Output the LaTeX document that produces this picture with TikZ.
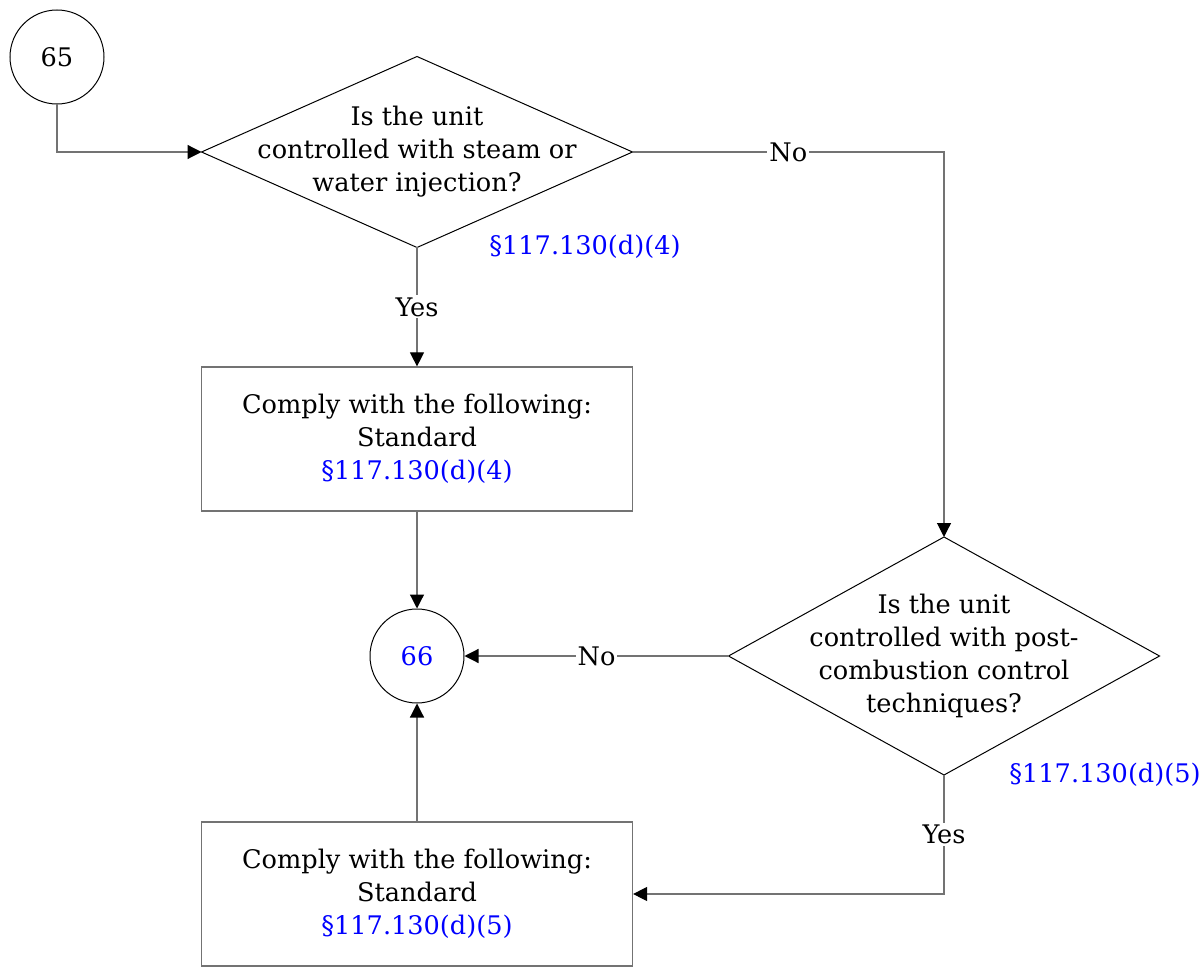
\documentclass[tikz,border=0pt]{standalone}
\usepackage{fontspec}
\setmainfont{DejaVu Serif}
\usetikzlibrary{shapes.geometric,arrows.meta}
\begin{document}
\begin{tikzpicture}[x=0.5pt, y=-0.5pt, >={Triangle[length=7pt,width=7pt,color=black]},
  every node/.style={font=\fontsize{12.8}{16.5}\selectfont},
  conn/.style={draw=black!55, line width=0.6pt},
  lbl/.style={fill=white, inner sep=1pt},
  term/.style={circle, draw, line width=0.5pt, minimum size=47pt, inner sep=0pt},
  decision/.style={diamond, draw, line width=0.5pt, inner sep=0pt, outer sep=0pt},
  stdbox/.style={rectangle, draw=black!55, line width=0.6pt, minimum width=215.5pt, minimum height=72pt, align=center},
  ref/.style={text=blue}]
  \useasboundingbox (0,0) rectangle (1203,967);
  % shapes
  \node[term] (c65) at (57,57) {65};
  \node[decision, minimum width=215.5pt, minimum height=95.5pt] (d1) at (417,152) {};
  \node[align=center] (t1) at (d1) {Is the unit\\controlled with steam or\\water injection?};
  \node[ref] (r1) at (585,247) {§117.130(d)(4)};
  \node[stdbox] (b1) at (417,439) {Comply with the following:\\Standard\\\textcolor{blue}{§117.130(d)(4)}};
  \node[term, text=blue] (c66) at (417,656) {66};
  \node[decision, minimum width=215.5pt, minimum height=119pt] (d2) at (944,656) {};
  \node[align=center] (t2) at (d2) {Is the unit\\controlled with post-\\combustion control\\techniques?};
  \node[ref] (r2) at (1105,775) {§117.130(d)(5)};
  \node[stdbox] (b2) at (417,894) {Comply with the following:\\Standard\\\textcolor{blue}{§117.130(d)(5)}};
  % connectors
  \draw[conn, ->] (c65.south) |- (d1.west);
  \draw[conn, ->] (d1.south) -- node[lbl] {Yes} (b1.north);
  \draw[conn, ->] (d1.east) -| node[lbl, pos=0.25] {No} (d2.north);
  \draw[conn, ->] (b1.south) -- (c66.north);
  \draw[conn, ->] (d2.west) -- node[lbl] {No} (c66.east);
  \draw[conn, ->] (d2.south) |- node[lbl, pos=0.25] {Yes} (b2.east);
  \draw[conn, ->] (b2.north) -- (c66.south);
\end{tikzpicture}
\end{document}
